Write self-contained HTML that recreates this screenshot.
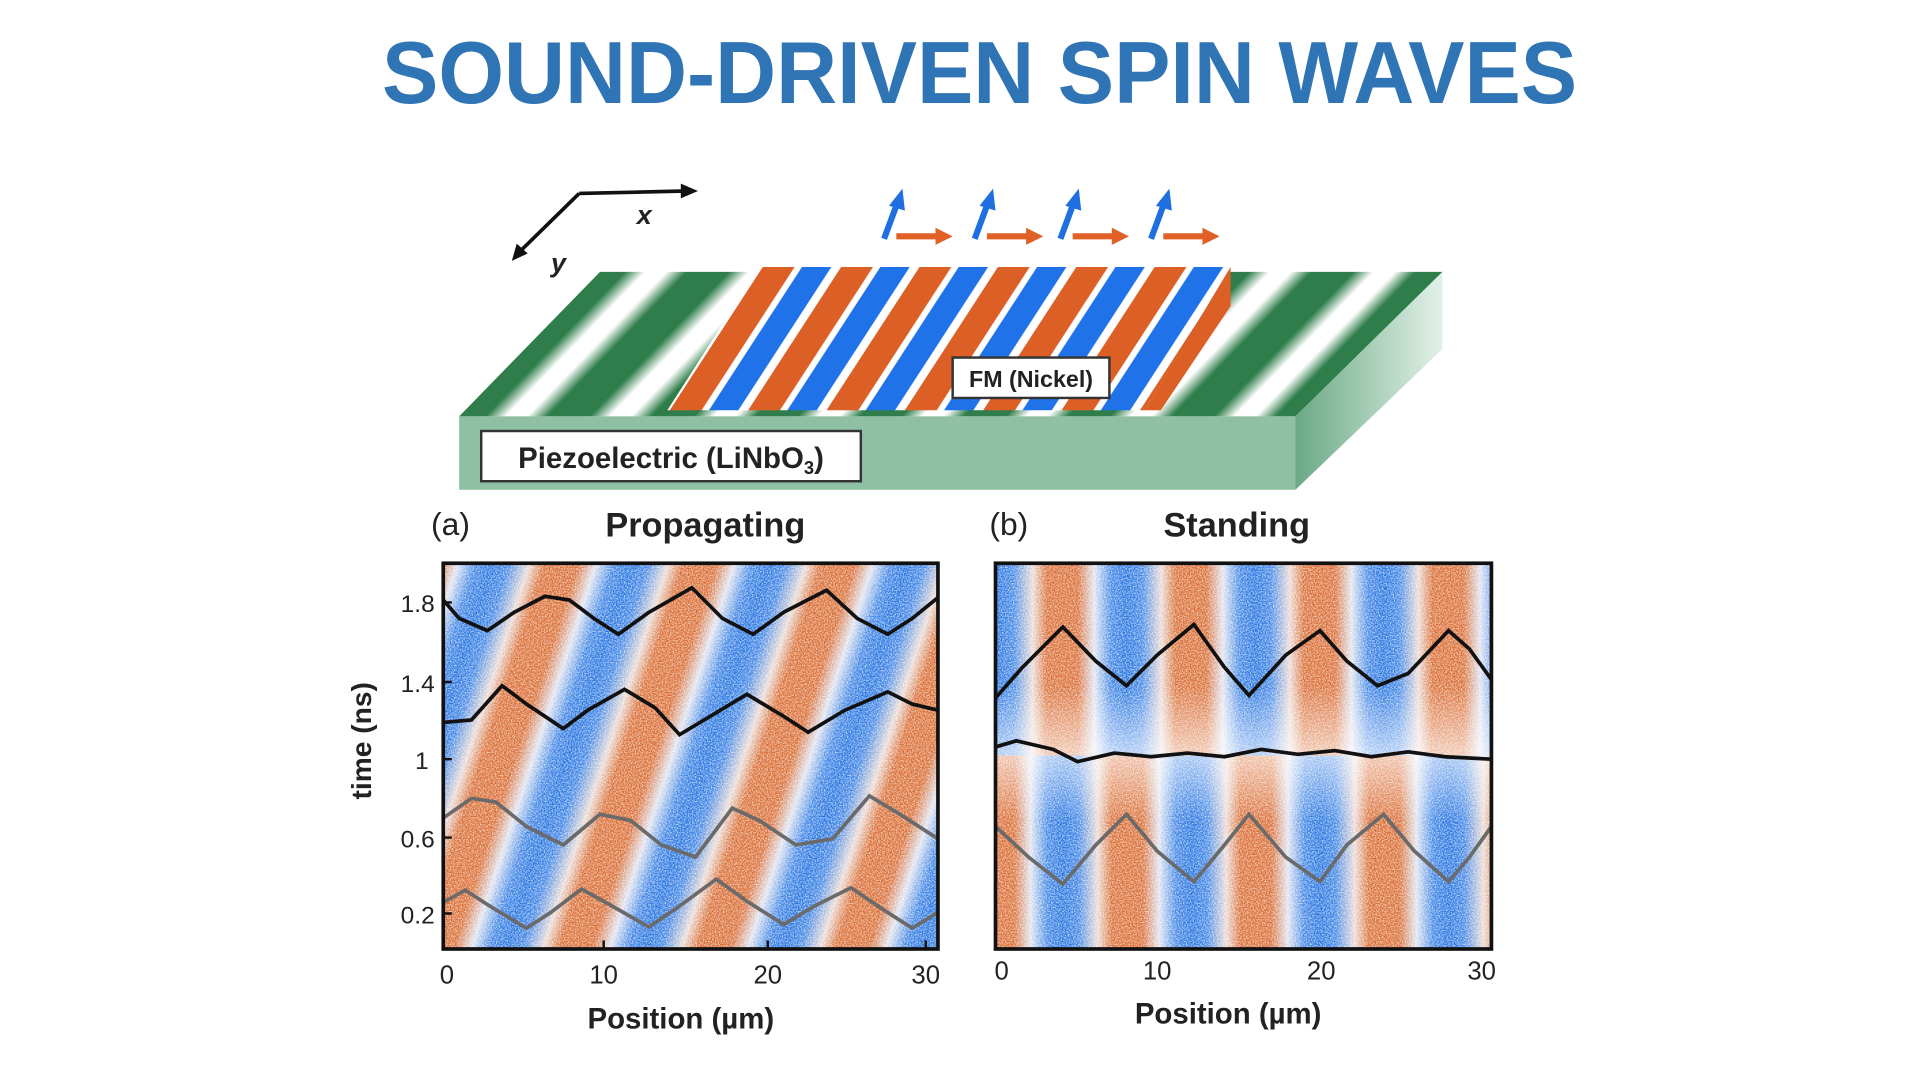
<!DOCTYPE html>
<html><head><meta charset="utf-8"><style>
html,body{margin:0;padding:0;background:#fff;width:1920px;height:1080px;overflow:hidden}
svg{display:block}
text{font-family:"Liberation Sans",sans-serif}
</style></head><body>
<svg width="1920" height="1080" viewBox="0 0 1568 882" xmlns="http://www.w3.org/2000/svg">
<defs>
  <linearGradient id="gs" x1="0" x2="1" y1="0" y2="0">
    <stop offset="0" stop-color="#2e7d4a"/><stop offset="0.25" stop-color="#2e7d4a"/>
    <stop offset="0.45" stop-color="#ffffff"/><stop offset="0.65" stop-color="#ffffff"/><stop offset="0.85" stop-color="#2e7d4a"/><stop offset="1" stop-color="#2e7d4a"/>
  </linearGradient>
  <pattern id="green" width="85" height="200" patternUnits="userSpaceOnUse" patternTransform="translate(375,340) skewX(-44)">
    <rect width="85" height="200" fill="url(#gs)"/>
  </pattern>
  <pattern id="fm" width="64" height="200" patternUnits="userSpaceOnUse" patternTransform="translate(545,335) skewX(-33)">
    <rect width="64" height="200" fill="#fff"/>
    <rect x="2" width="26" height="200" fill="#dc5f26"/>
    <rect x="34" width="24" height="200" fill="#1f72e8"/>
  </pattern>
  <linearGradient id="ps" x1="0" x2="1" y1="0" y2="0">
    <stop offset="0" stop-color="#1f6fe0"/><stop offset="0.12" stop-color="#3b82e6"/>
    <stop offset="0.27" stop-color="#eadad4"/><stop offset="0.38" stop-color="#d9692f"/>
    <stop offset="0.62" stop-color="#d9692f"/><stop offset="0.75" stop-color="#dfe3f0"/>
    <stop offset="0.88" stop-color="#3b82e6"/><stop offset="1" stop-color="#1f6fe0"/>
  </linearGradient>
  <pattern id="prop" width="113" height="400" patternUnits="userSpaceOnUse" patternTransform="translate(300,775) skewX(-18)">
    <rect width="113" height="400" y="-400" fill="url(#ps)"/>
    <rect width="113" height="400" fill="url(#ps)"/>
  </pattern>
  <pattern id="stT" width="105" height="400" patternUnits="userSpaceOnUse" patternTransform="translate(815,0)">
    <rect width="105" height="400" fill="url(#ps)"/>
  </pattern>
  <pattern id="stB" width="105" height="400" patternUnits="userSpaceOnUse" patternTransform="translate(868,0)">
    <rect width="105" height="400" fill="url(#ps)"/>
  </pattern>
  <linearGradient id="mid" x1="0" x2="0" y1="0" y2="1">
    <stop offset="0" stop-color="#fff" stop-opacity="0"/>
    <stop offset="0.5" stop-color="#fff" stop-opacity="0.6"/>
    <stop offset="1" stop-color="#fff" stop-opacity="0"/>
  </linearGradient>
  <filter id="noise" x="0" y="0" width="100%" height="100%">
    <feTurbulence type="fractalNoise" baseFrequency="0.9" numOctaves="2" seed="3"/>
    <feColorMatrix type="matrix" values="0 0 0 0 1  0 0 0 0 1  0 0 0 0 1  0 0 0 -2.2 1.45"/>
  </filter>
  <linearGradient id="side" x1="0" x2="1" y1="0" y2="0">
    <stop offset="0" stop-color="#6aa985"/><stop offset="1" stop-color="#e3f1e8"/>
  </linearGradient>
</defs>

<text x="800" y="84" text-anchor="middle" font-size="72" font-weight="bold" fill="#2f75b5" textLength="976" lengthAdjust="spacingAndGlyphs">SOUND-DRIVEN SPIN WAVES</text>

<!-- axes -->
<path d="M473,158 L560,156" stroke="#111" stroke-width="3" fill="none"/>
<path d="M556,150 L570,156 L556,162 z" fill="#111"/>
<path d="M473,158 L424,206" stroke="#111" stroke-width="3" fill="none"/>
<path d="M418,213 L422,199 L431,207 z" fill="#111"/>
<text x="520" y="183" font-size="22" font-weight="bold" font-style="italic" fill="#222">x</text>
<text x="450" y="222" font-size="22" font-weight="bold" font-style="italic" fill="#222">y</text>

<!-- slab -->
<polygon points="490,222 1178,222 1058,340 375,340" fill="url(#green)"/>
<rect x="375" y="340" width="683" height="60" fill="#90c0a4"/>
<polygon points="1058,340 1178,222 1178,285 1058,400" fill="url(#side)"/>
<!-- FM block -->
<polygon points="620,218 1005,218 935,335 545,335" fill="url(#fm)"/>
<polygon points="935,335 1005,218 1005,250 948,335" fill="#dc5f26"/>
<rect x="778" y="292" width="128" height="33" fill="#fff" stroke="#333" stroke-width="2"/>
<text x="842" y="316" text-anchor="middle" font-size="19" font-weight="bold" fill="#222">FM (Nickel)</text>
<rect x="393" y="352" width="310" height="41" fill="#fff" stroke="#333" stroke-width="2"/>
<text x="548" y="382" text-anchor="middle" font-size="24" font-weight="bold" fill="#222">Piezoelectric (LiNbO<tspan font-size="15" dy="5">3</tspan><tspan dy="-5">)</tspan></text>

<!-- spin arrows -->
<g>
  <g transform="translate(722,0)"><path d="M0,195 L10,168" stroke="#1f6fe0" stroke-width="5"/><path d="M4,168 L15,154 L17,172 z" fill="#1f6fe0"/><path d="M10,193 L44,193" stroke="#e06025" stroke-width="5"/><path d="M42,186 L56,193 L42,200 z" fill="#e06025"/></g>
  <g transform="translate(796,0)"><path d="M0,195 L10,168" stroke="#1f6fe0" stroke-width="5"/><path d="M4,168 L15,154 L17,172 z" fill="#1f6fe0"/><path d="M10,193 L44,193" stroke="#e06025" stroke-width="5"/><path d="M42,186 L56,193 L42,200 z" fill="#e06025"/></g>
  <g transform="translate(866,0)"><path d="M0,195 L10,168" stroke="#1f6fe0" stroke-width="5"/><path d="M4,168 L15,154 L17,172 z" fill="#1f6fe0"/><path d="M10,193 L44,193" stroke="#e06025" stroke-width="5"/><path d="M42,186 L56,193 L42,200 z" fill="#e06025"/></g>
  <g transform="translate(940,0)"><path d="M0,195 L10,168" stroke="#1f6fe0" stroke-width="5"/><path d="M4,168 L15,154 L17,172 z" fill="#1f6fe0"/><path d="M10,193 L44,193" stroke="#e06025" stroke-width="5"/><path d="M42,186 L56,193 L42,200 z" fill="#e06025"/></g>
</g>

<!-- labels -->
<text x="352" y="437" font-size="26" fill="#222">(a)</text>
<text x="576" y="438" text-anchor="middle" font-size="28" font-weight="bold" fill="#222">Propagating</text>
<text x="808" y="437" font-size="26" fill="#222">(b)</text>
<text x="1010" y="438" text-anchor="middle" font-size="28" font-weight="bold" fill="#222">Standing</text>

<!-- plot a -->
<rect x="362" y="460" width="404" height="315" fill="url(#prop)"/>
<rect x="362" y="460" width="404" height="315" filter="url(#noise)" opacity="0.75"/>
<polyline fill="none" stroke="#111" stroke-width="3" points="362,490 375,505 398,515 420,500 445,487 465,490 485,505 505,518 530,500 565,480 590,505 615,518 640,500 675,482 700,505 725,518 745,505 766,488"/>
<polyline fill="none" stroke="#111" stroke-width="3" points="362,590 385,588 410,560 430,575 460,595 480,580 510,563 535,578 555,600 580,585 610,567 640,585 660,598 690,580 725,565 745,575 766,580"/>
<polyline fill="none" stroke="#6a6a6a" stroke-width="3" points="362,668 385,652 405,655 430,675 460,690 490,665 515,670 540,690 568,700 598,660 620,670 650,690 680,685 710,650 735,665 766,685"/>
<polyline fill="none" stroke="#6a6a6a" stroke-width="3" points="362,737 380,727 400,740 430,758 450,745 475,726 500,740 530,757 552,742 585,718 610,736 640,755 665,740 695,725 720,742 745,758 766,745"/>
<rect x="362" y="460" width="404" height="315" fill="none" stroke="#111" stroke-width="3"/>
<g stroke="#111" stroke-width="2">
  <path d="M362,492 h7 M362,557 h7 M362,620 h7 M362,684 h7 M362,746 h7"/>
  <path d="M493,775 v-7 M627,775 v-7 M756,775 v-7"/>
</g>
<g font-size="20" fill="#222" text-anchor="end">
  <text x="355" y="500">1.8</text><text x="355" y="565">1.4</text><text x="350" y="628">1</text><text x="355" y="692">0.6</text><text x="355" y="754">0.2</text>
</g>
<g font-size="21" fill="#222" text-anchor="middle">
  <text x="365" y="803">0</text><text x="493" y="803">10</text><text x="627" y="803">20</text><text x="756" y="803">30</text>
  <text x="1210" y="800">30</text><text x="818" y="800">0</text><text x="945" y="800">10</text><text x="1079" y="800">20</text>
</g>
<text x="556" y="840" text-anchor="middle" font-size="24" font-weight="bold" fill="#222">Position (µm)</text>
<text x="1003" y="836" text-anchor="middle" font-size="24" font-weight="bold" fill="#222">Position (µm)</text>
<text transform="translate(303,605) rotate(-90)" text-anchor="middle" font-size="23" font-weight="bold" fill="#222">time (ns)</text>

<!-- plot b -->
<rect x="813" y="460" width="405" height="157" fill="url(#stT)"/>
<rect x="813" y="617" width="405" height="158" fill="url(#stB)"/>
<rect x="813" y="560" width="405" height="110" fill="url(#mid)"/>
<rect x="813" y="460" width="405" height="315" filter="url(#noise)" opacity="0.75"/>
<polyline fill="none" stroke="#111" stroke-width="3" points="813,570 835,545 868,512 895,540 920,560 945,535 975,510 1000,545 1020,568 1050,535 1078,515 1100,540 1125,560 1150,550 1183,515 1200,530 1218,555"/>
<polyline fill="none" stroke="#111" stroke-width="3" points="813,610 830,605 860,612 880,622 910,615 940,618 970,615 1000,618 1030,612 1060,616 1090,613 1120,618 1150,614 1180,618 1218,620"/>
<polyline fill="none" stroke="#6a6a6a" stroke-width="3" points="813,675 840,700 868,722 895,690 920,665 945,695 975,720 1000,690 1020,665 1050,700 1078,720 1100,690 1130,665 1155,695 1183,720 1200,700 1218,675"/>
<rect x="813" y="460" width="405" height="315" fill="none" stroke="#111" stroke-width="3"/>
</svg>
</body></html>
